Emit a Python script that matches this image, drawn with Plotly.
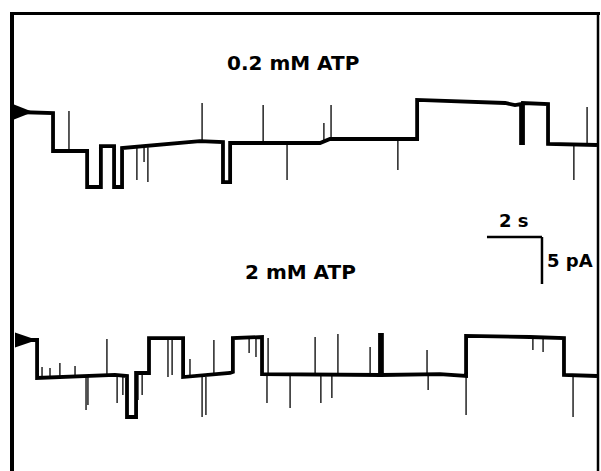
import plotly.graph_objects as go

# ---------------- data ----------------
# Upper record, 0.2 mM ATP: idealised current trace (time s, current pA)
top_time = [0.00, 1.31, 1.31, 2.55, 2.55, 3.05, 3.05, 3.53, 3.53, 3.82, 3.82,
            6.65, 7.49, 7.49, 7.75, 7.75, 11.02, 11.38, 14.55, 14.55, 17.75,
            18.11, 18.33, 18.33, 18.40, 18.40, 19.31, 19.31, 21.09]
top_current = [0.00, -0.11, -4.15, -4.15, -7.98, -7.98, -3.62, -3.62, -7.98, -7.98, -3.83,
               -3.09, -3.19, -7.45, -7.45, -3.30, -3.30, -2.87, -2.87, 1.28, 0.96,
               0.74, 0.85, -3.30, -3.30, 0.96, 0.85, -3.40, -3.51]
# brief events (spikes) of the upper record
top_spike_time = [1.89, 4.36, 4.62, 4.76, 6.73, 8.95, 9.82, 11.16, 11.42, 13.85, 20.25, 20.73]
top_spike_base = [-4.15, -3.75, -3.75, -3.75, -3.09, -3.30, -3.30, -2.98, -2.87, -2.87, -3.51, -3.51]
top_spike_peak = [0.11, -7.23, -5.32, -7.45, 0.96, 0.74, -7.23, -1.17, 0.74, -6.17, -7.23, 0.53]

# Lower record, 2 mM ATP
bot_time = [0.00, 0.73, 0.73, 3.56, 4.00, 4.00, 4.33, 4.33, 4.80, 4.80, 6.04, 6.04,
            7.75, 7.85, 7.85, 8.91, 8.91, 13.20, 13.20, 13.27, 13.27, 15.38, 16.33,
            16.33, 18.65, 19.89, 19.89, 21.09]
bot_current = [0.00, 0.00, -4.04, -3.72, -3.83, -8.19, -8.19, -3.51, -3.51, 0.21, 0.21, -3.94,
               -3.51, -3.40, 0.21, 0.32, -3.62, -3.72, 0.53, 0.53, -3.72, -3.62, -3.83,
               0.43, 0.32, 0.21, -3.72, -3.83]
bot_spike_time = [0.91, 1.20, 1.56, 2.11, 2.51, 2.58, 3.27, 3.64, 3.85, 4.40, 4.55, 5.49,
                  5.64, 6.29, 6.73, 6.87, 7.16, 8.44, 8.69, 9.09, 9.13, 9.93, 10.84, 11.05,
                  11.45, 11.67, 12.84, 14.91, 14.95, 16.33, 18.76, 19.13, 20.22]
bot_spike_base = [-4.04, -4.00, -3.94, -3.94, -3.94, -3.94, -3.83, -3.83, -3.83, -3.51, -3.51, 0.21,
                  0.21, -3.94, -3.94, -3.94, -3.83, 0.21, 0.21, -3.62, -3.62, -3.72, -3.72, -3.72,
                  -3.72, -3.72, -3.72, -3.51, -3.51, -3.83, 0.32, 0.32, -3.72]
bot_spike_peak = [-2.87, -2.98, -2.45, -2.77, -7.45, -6.91, 0.11, -6.70, -5.85, -6.38, -5.85, -3.94,
                  -3.72, -2.02, -8.19, -7.98, 0.00, -1.38, -1.81, -6.70, 0.21, -7.23, 0.32, -6.70,
                  -6.17, 0.64, -0.74, -1.06, -5.32, -7.98, -1.06, -1.28, -8.19]

labels = ["0.2 mM ATP", "2 mM ATP"]
scale_time = 2      # s
scale_current = 5   # pA
scale_labels = ["2 s", "5 pA"]

# ---------------- layout constants ----------------
W, H = 601, 471
PX_PER_S = 27.5
PX_PER_PA = 9.4
X0_PX = 17
TOP_ZERO_PX = 112
BOT_ZERO_PX = 340

xr = [-X0_PX / PX_PER_S, (W - X0_PX) / PX_PER_S]
y1r = [(TOP_ZERO_PX - H) / PX_PER_PA, TOP_ZERO_PX / PX_PER_PA]
y2r = [(BOT_ZERO_PX - H) / PX_PER_PA, BOT_ZERO_PX / PX_PER_PA]


def spikes(ts, bs, ps):
    xs, ys = [], []
    for t, b, p in zip(ts, bs, ps):
        xs += [t, t, None]
        ys += [b, p, None]
    return xs, ys


fig = go.Figure()
fig.add_trace(go.Scatter(x=top_time, y=top_current, mode="lines",
                         line=dict(color="black", width=3.8), yaxis="y", hoverinfo="skip"))
sx, sy = spikes(top_spike_time, top_spike_base, top_spike_peak)
fig.add_trace(go.Scatter(x=sx, y=sy, mode="lines",
                         line=dict(color="black", width=1.3), yaxis="y", hoverinfo="skip"))
fig.add_trace(go.Scatter(x=bot_time, y=bot_current, mode="lines",
                         line=dict(color="black", width=3.8), yaxis="y2", hoverinfo="skip"))
sx, sy = spikes(bot_spike_time, bot_spike_base, bot_spike_peak)
fig.add_trace(go.Scatter(x=sx, y=sy, mode="lines",
                         line=dict(color="black", width=1.3), yaxis="y2", hoverinfo="skip"))

shapes = []
# closed-level arrows
shapes.append(dict(type="path", xref="x", yref="y", xsizemode="pixel", ysizemode="pixel",
                   xanchor=top_time[0], yanchor=top_current[0],
                   path="M -3,-7.5 L -3,7.5 L 16,0 Z", fillcolor="black", line=dict(width=0)))
shapes.append(dict(type="path", xref="x", yref="y2", xsizemode="pixel", ysizemode="pixel",
                   xanchor=bot_time[0], yanchor=bot_current[0],
                   path="M -2,-7.5 L -2,7.5 L 20,0 Z", fillcolor="black", line=dict(width=0)))

# scale bar (corner in the top-record axes)
cx, cy = 19.09, -13.3
shapes.append(dict(type="line", xref="x", yref="y", x0=cx - scale_time, x1=cx, y0=cy, y1=cy,
                   line=dict(color="black", width=2.5)))
shapes.append(dict(type="line", xref="x", yref="y", x0=cx, x1=cx, y0=cy, y1=cy - scale_current,
                   line=dict(color="black", width=2.5)))

# frame
shapes.append(dict(type="line", xref="paper", yref="paper", x0=12 / W, x1=12 / W,
                   y0=0, y1=1 - 12 / H, line=dict(color="black", width=4)))
shapes.append(dict(type="line", xref="paper", yref="paper", x0=10 / W, x1=600 / W,
                   y0=1 - 13.5 / H, y1=1 - 13.5 / H, line=dict(color="black", width=3)))
shapes.append(dict(type="line", xref="paper", yref="paper", x0=598 / W, x1=598 / W,
                   y0=0, y1=1 - 13 / H, line=dict(color="black", width=2.5)))

font_title = dict(family="DejaVu Sans", size=20, color="black")
font_scale = dict(family="DejaVu Sans", size=18, color="black")
annotations = [
    dict(text="<b>%s</b>" % labels[0], xref="paper", yref="paper", x=293 / W, y=1 - 63 / H,
         xanchor="center", yanchor="middle", showarrow=False, font=font_title),
    dict(text="<b>%s</b>" % labels[1], xref="paper", yref="paper", x=300 / W, y=1 - 272 / H,
         xanchor="center", yanchor="middle", showarrow=False, font=font_title),
    dict(text="<b>%s</b>" % scale_labels[0], xref="x", yref="y", x=cx - scale_time / 2, y=cy,
         xanchor="center", yanchor="bottom", yshift=4, showarrow=False, font=font_scale),
    dict(text="<b>%s</b>" % scale_labels[1], xref="x", yref="y", x=cx, y=cy - scale_current / 2,
         xanchor="left", yanchor="middle", xshift=3, showarrow=False, font=font_scale),
]

fig.update_layout(
    width=W, height=H, margin=dict(l=0, r=0, t=0, b=0, pad=0),
    paper_bgcolor="white", plot_bgcolor="white", showlegend=False,
    xaxis=dict(range=xr, visible=False, fixedrange=True),
    yaxis=dict(range=y1r, visible=False, fixedrange=True),
    yaxis2=dict(range=y2r, visible=False, fixedrange=True, overlaying="y", anchor="x"),
    shapes=shapes, annotations=annotations,
)

fig.write_html("out.html")
